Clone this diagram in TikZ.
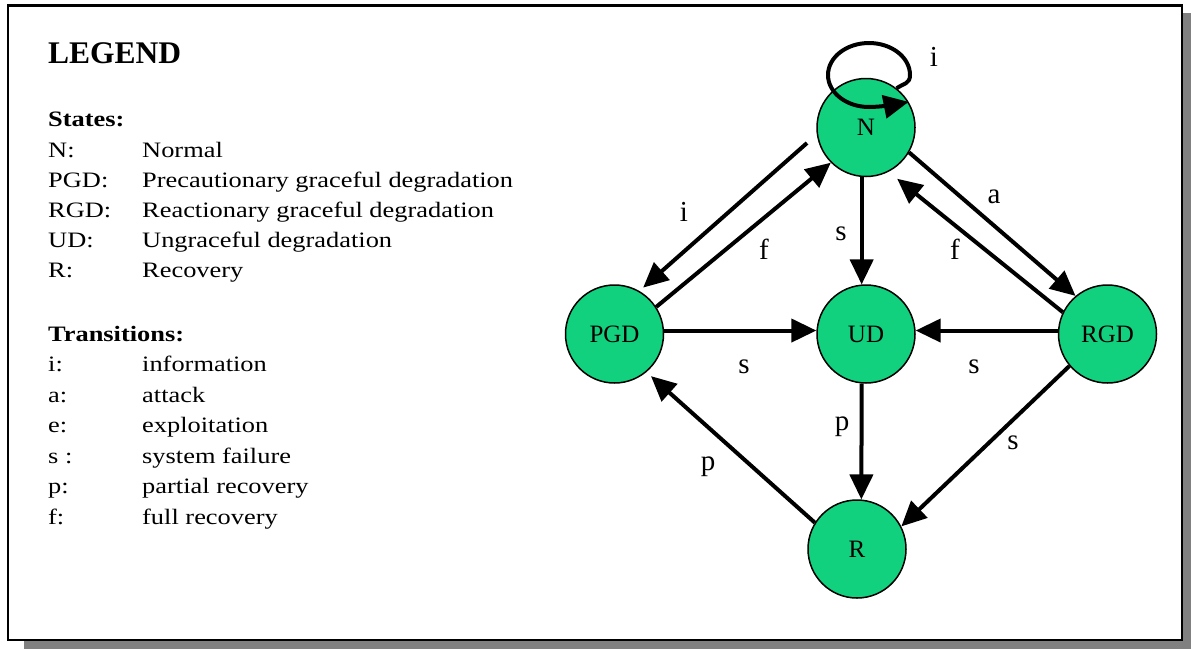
\documentclass[tikz,border=0pt]{standalone}
\usepackage{fontspec}
\setmainfont{Liberation Serif}
\newfontfamily\legendfont[FakeStretch=1.2]{Liberation Serif}
\usetikzlibrary{arrows.meta}
\definecolor{stategreen}{RGB}{18,209,126}
\definecolor{shadowgray}{RGB}{128,128,128}
\begin{document}
\begin{tikzpicture}[x=1pt,y=-1pt,
  state/.style={circle, draw=black, line width=1.5pt, fill=stategreen, minimum size=98pt, inner sep=0pt, font=\fontsize{25}{25}\selectfont},
  arr/.style={line width=4pt, -{Triangle[length=25pt,width=23pt]}},
  elabel/.style={inner sep=0pt, font=\fontsize{29}{29}\selectfont},
  legtext/.style={anchor=base west, inner sep=0pt, font=\legendfont\fontsize{22}{22}\selectfont},
  leghead/.style={anchor=base west, inner sep=0pt, font=\legendfont\bfseries\fontsize{22}{22}\selectfont},
  legtitle/.style={anchor=base west, inner sep=0pt, font=\bfseries\fontsize{31.5}{31.5}\selectfont}]
\useasboundingbox (0,0) rectangle (1191,649);
% shadow and frame
\fill[shadowgray] (24,13) rectangle (1191,649);
\draw[line width=2.2pt, fill=white] (8,5.5) rectangle (1182,640);

% legend
\node[legtitle] (lt) at (48,63) {LEGEND};
\node[leghead] (ls) at (48,126.5) {States:};
\node[legtext] (k1) at (48,157) {N:};
\node[legtext] (v1) at (142,157) {Normal};
\node[legtext] (k2) at (48,187.2) {PGD:};
\node[legtext] (v2) at (142,187.2) {Precautionary graceful degradation};
\node[legtext] (k3) at (48,217.4) {RGD:};
\node[legtext] (v3) at (142,217.4) {Reactionary graceful degradation};
\node[legtext] (k4) at (48,247.6) {UD:};
\node[legtext] (v4) at (142,247.6) {Ungraceful degradation};
\node[legtext] (k5) at (48,277.8) {R:};
\node[legtext] (v5) at (142,277.8) {Recovery};

\node[leghead] (lr) at (48,341.5) {Transitions:};
\node[legtext] (t1) at (48,371.5) {i:};
\node[legtext] (d1) at (142,371.5) {information};
\node[legtext] (t2) at (48,402) {a:};
\node[legtext] (d2) at (142,402) {attack};
\node[legtext] (t3) at (48,432.5) {e:};
\node[legtext] (d3) at (142,432.5) {exploitation};
\node[legtext] (t4) at (48,463) {s :};
\node[legtext] (d4) at (142,463) {system failure};
\node[legtext] (t5) at (48,493.5) {p:};
\node[legtext] (d5) at (142,493.5) {partial recovery};
\node[legtext] (t6) at (48,524) {f:};
\node[legtext] (d6) at (142,524) {full recovery};

% states
\node[state] (N) at (866,127.5) {N};
\node[state] (PGD) at (614.5,334) {PGD};
\node[state] (UD) at (866,334) {UD};
\node[state] (RGD) at (1107.5,334) {RGD};
\node[state] (R) at (857,549) {R};

% self loop on N
\coordinate (LR) at (910,75);
\coordinate (LT) at (869,43);
\coordinate (LL) at (828,75);
\coordinate (LB) at (869,107);
\draw[arr] (N.52) .. controls +(7,-5) and +(0,9) .. (LR)
  .. controls +(0,-17.7) and +(22.6,0) .. (LT)
  .. controls +(-22.6,0) and +(0,-17.7) .. (LL)
  .. controls +(0,17.7) and +(-22.6,0) .. (LB)
  .. controls +(12,0) and +(-10,2) .. (N.31);
\node[elabel] (li) at (934,57) {i};

% transitions
\coordinate (iStart) at (807,143);
\draw[arr, shorten >=5pt] (iStart) -- (PGD.60);
\draw[arr] (PGD.33) -- (N.225);
\draw[arr] (N.-95) -- (UD.95);
\draw[arr] (N.-30) -- (RGD.130);
\draw[arr, shorten >=11pt] (RGD.154) -- (N.-63.6);
\draw[arr] (PGD.4) -- (UD.176);
\draw[arr] (RGD.176) -- (UD.4);
\draw[arr] (UD.-95) -- (R.85);
\draw[arr] (RGD.220) -- (R.27);
\draw[arr, shorten >=6pt] (R.148) -- (PGD.-50);

% edge labels
\node[elabel] (e1) at (684,212) {i};
\node[elabel] (e2) at (764,249) {f};
\node[elabel] (e3) at (841,234) {s};
\node[elabel] (e4) at (994,197) {a};
\node[elabel] (e5) at (955,249) {f};
\node[elabel] (e6) at (744,367) {s};
\node[elabel] (e7) at (974,367) {s};
\node[elabel] (e8) at (842,427) {p};
\node[elabel] (e9) at (1013,443) {s};
\node[elabel] (e10) at (708,467) {p};
\end{tikzpicture}
\end{document}
